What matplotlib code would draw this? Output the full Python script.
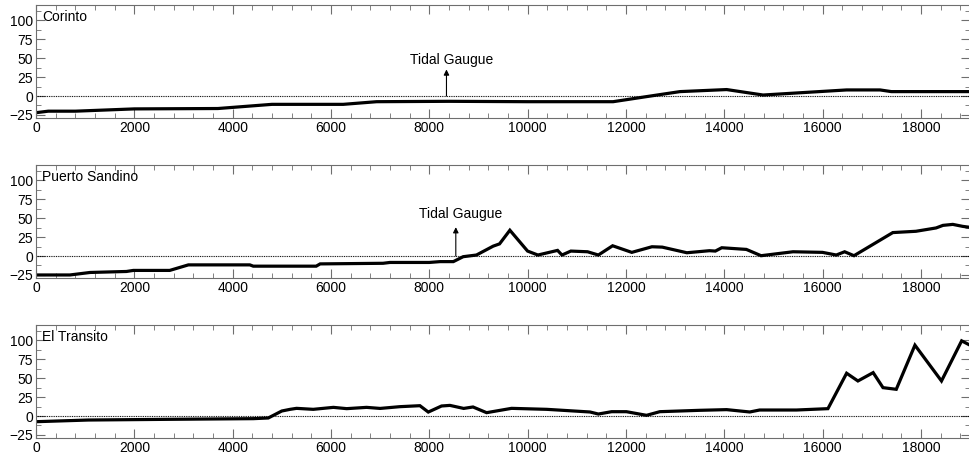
import numpy as np
import matplotlib.pyplot as plt
from matplotlib.ticker import MultipleLocator

plt.rcParams['font.family'] = ['Liberation Sans', 'DejaVu Sans']

# distance along coast (m) and level values per station
corinto_x = [0, 250, 800, 2000, 3700, 4800, 6250, 6930, 8400, 10000, 11740, 12400,
             13100, 14050, 14790, 15600, 16490, 17170, 17400, 19000]
corinto_y = [-22, -20, -20, -17, -16.5, -11, -11, -7.5, -7, -7.5, -7.5, -1,
             5.8, 8.5, 1.3, 4.5, 8, 8, 5.8, 5.8]

sandino_x = [0, 690, 1100, 1840, 1980, 2720, 3100, 4350, 4420, 5700, 5780, 7060,
             7200, 8000, 8220, 8490, 8690, 8960, 9300, 9430, 9640, 10000, 10210,
             10610, 10700, 10880, 11220, 11440, 11730, 12120, 12530, 12740, 13240,
             13700, 13820, 13950, 14450, 14750, 15400, 16000, 16280, 16450, 16640,
             17430, 17900, 18310, 18450, 18650, 18850, 19000]
sandino_y = [-25, -25, -21.7, -20.4, -19, -19, -11.7, -11.7, -13.4, -13.4, -10.4, -9.6,
             -8.5, -8.5, -7.4, -7.4, -0.9, 1.3, 13, 16, 34, 6.5, 1.3,
             7.4, 1.3, 6.5, 5.6, 1.3, 13.5, 4.8, 12.2, 11.7, 4.3,
             7, 6.5, 10.9, 8.7, 0.4, 5.6, 4.8, 1.3, 5.6, 0.4,
             30.9, 32.6, 37, 40.4, 41.7, 39.1, 37.8]

transito_x = [0, 1065, 2660, 4420, 4725, 5000, 5170, 5300, 5640, 6050, 6320, 6725,
              7000, 7400, 7810, 7980, 8250, 8420, 8700, 8890, 9166, 9674, 10390,
              11270, 11440, 11710, 12010, 12420, 12690, 13500, 14050, 14520, 14720,
              15470, 16110, 16490, 16720, 17030, 17230, 17500, 17880, 18420, 18830, 19000]
transito_y = [-7.5, -5.3, -4.4, -3.5, -2.6, 6.6, 8.8, 10.1, 8.8, 11.4, 9.7, 11.4,
              10, 12.3, 13.6, 5.2, 13.2, 14, 10, 11.9, 4.4, 10.1, 8.8,
              5.3, 2.6, 5.7, 5.7, 0.9, 5.7, 7.5, 8.4, 5.3, 7.9,
              7.9, 9.7, 56.4, 46.2, 57.2, 37.4, 35.2, 93.4, 46.2, 99.1, 93.4]

stations = ["Corinto", "Puerto Sandino", "El Transito"]
xs = [corinto_x, sandino_x, transito_x]
ys = [corinto_y, sandino_y, transito_y]

# tidal gauge positions (x, arrow tip, text height); None where absent
gauges = [(8350, 35, 48), (8540, 38, 55), None]

fig = plt.figure(figsize=(9.7, 4.55), dpi=100)

W, H = 970.0, 455.0
tops = [5, 165, 325]
ph = 113

for i in range(3):
    ax = fig.add_axes([36 / W, 1 - (tops[i] + ph) / H, 934 / W, ph / H])
    ax.plot(xs[i], ys[i], color="black", lw=2.3, solid_joinstyle="miter")
    ax.axhline(0, color="black", lw=0.8, linestyle=(0, (0.8, 0.8)))

    ax.set_xlim(0, 19000)
    ax.set_ylim(-29, 120)
    ax.xaxis.set_major_locator(MultipleLocator(2000))
    ax.xaxis.set_minor_locator(MultipleLocator(400))
    ax.set_yticks([-25, 0, 25, 50, 75, 100])
    ax.yaxis.set_minor_locator(MultipleLocator(12.5))
    ax.tick_params(which="both", direction="in", top=True, right=True,
                   color="#6e6e6e", labelsize=10, pad=2)
    ax.tick_params(which="major", length=6.5)
    ax.tick_params(which="minor", length=3.5)
    for s in ax.spines.values():
        s.set_color("#6e6e6e")

    ax.text(0.0065, 0.894, stations[i], transform=ax.transAxes,
            va="center", ha="left", fontsize=10)

    if gauges[i] is not None:
        gx, tip, ty = gauges[i]
        ax.annotate("", xy=(gx, tip), xytext=(gx, 0),
                    arrowprops=dict(arrowstyle="-|>", color="black", lw=0.8,
                                    mutation_scale=8, shrinkA=0, shrinkB=0))
        ax.text(gx + 100, ty, "Tidal Gaugue", ha="center", va="center", fontsize=10)

plt.savefig("out.png")
